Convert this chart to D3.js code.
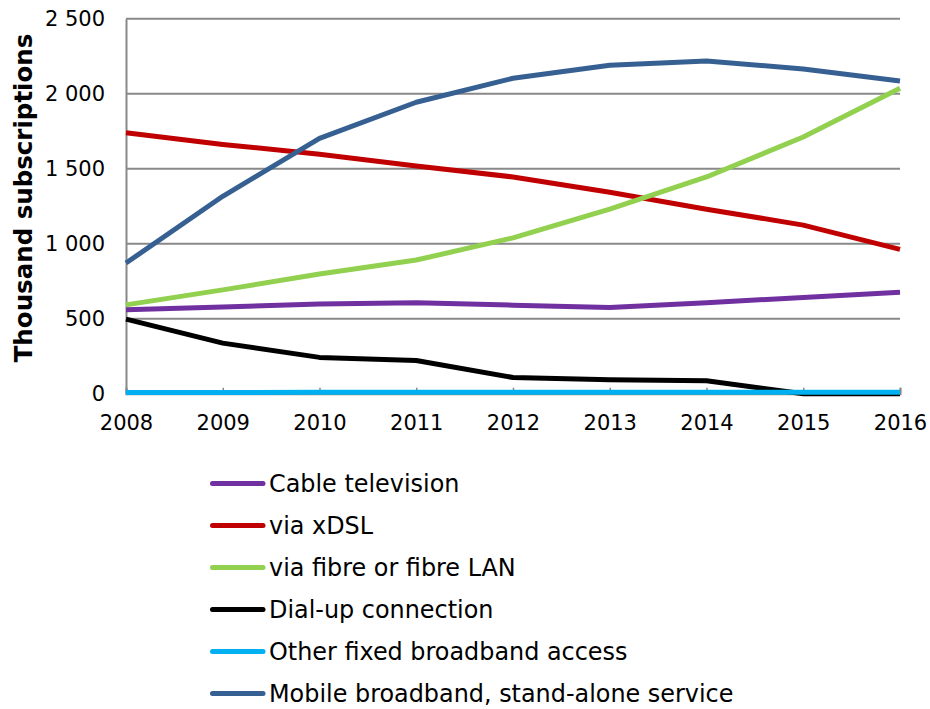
<!DOCTYPE html>
<html>
<head>
<meta charset="utf-8">
<script src="https://cdn.jsdelivr.net/npm/d3@7"></script>
<style>
  body { margin: 0; background: #fff; }
  svg { display: block; font-family: Verdana, "DejaVu Sans", sans-serif; }
</style>
</head>
<body>
<svg id="chart" width="930" height="709"></svg>
<script>
// Broadband subscriptions by access type, thousands
const years = [2008, 2009, 2010, 2011, 2012, 2013, 2014, 2015, 2016];
const cableTv   = [559, 578, 598, 607, 590, 575, 607, 641, 676];
const xdsl      = [1740, 1662, 1596, 1518, 1445, 1343, 1230, 1124, 962];
const fibre     = [592, 692, 798, 891, 1039, 1230, 1445, 1711, 2037];
const dialUp    = [497, 337, 242, 221, 108, 93, 86, 0, 0];
const otherFixed = [8, 8, 10, 10, 10, 10, 10, 10, 10];
const mobile    = [871, 1316, 1702, 1943, 2103, 2190, 2218, 2165, 2085];
const yTicks = [0, 500, 1000, 1500, 2000, 2500];

const seriesNames = [
  "Cable television",
  "via xDSL",
  "via fibre or fibre LAN",
  "Dial-up connection",
  "Other fixed broadband access",
  "Mobile broadband, stand-alone service"
];
const seriesValues = [cableTv, xdsl, fibre, dialUp, otherFixed, mobile];
const seriesColors = ["#7030A0", "#C00000", "#92D050", "#000000", "#00B0F0", "#376092"];

const svg = d3.select("#chart");
const plot = { left: 126, right: 900, top: 18.7, bottom: 393.7 };

const x = d3.scalePoint().domain(years).range([plot.left, plot.right]);
const y = d3.scaleLinear().domain([0, 2500]).range([plot.bottom, plot.top]);

const fmt = d3.formatLocale({ decimal: ",", thousands: "\u00a0", grouping: [3], currency: ["", ""] }).format(",d");

// horizontal gridlines
svg.append("g")
  .selectAll("line")
  .data(yTicks.filter(d => d > 0))
  .join("line")
  .attr("x1", plot.left).attr("x2", plot.right)
  .attr("y1", d => y(d)).attr("y2", d => y(d))
  .attr("stroke", "#898989").attr("stroke-width", 2);

// y axis
const yAxis = svg.append("g")
  .attr("transform", `translate(${plot.left},0)`)
  .call(d3.axisLeft(y).tickValues(yTicks).tickFormat(fmt).tickSize(0).tickPadding(21));
yAxis.select(".domain").attr("stroke", "#898989").attr("stroke-width", 2);
yAxis.selectAll("text").attr("font-size", 21).attr("fill", "#000")
  .attr("font-family", "Verdana, 'DejaVu Sans', sans-serif");

// x axis
const xAxis = svg.append("g")
  .attr("transform", `translate(0,${plot.bottom})`)
  .call(d3.axisBottom(x).tickSize(-6).tickPadding(21));
xAxis.select(".domain").attr("stroke", "#898989").attr("stroke-width", 2);
xAxis.selectAll(".tick line").attr("stroke", "#898989").attr("stroke-width", 1.5);
xAxis.selectAll("text").attr("font-size", 21).attr("fill", "#000")
  .attr("font-family", "Verdana, 'DejaVu Sans', sans-serif");

// y axis title
svg.append("text")
  .attr("transform", `translate(32,198) rotate(-90)`)
  .attr("text-anchor", "middle")
  .attr("font-size", 24.5).attr("font-weight", "bold")
  .text("Thousand subscriptions");

// series lines
const line = d3.line()
  .x((d, i) => x(years[i]))
  .y(d => y(d));

svg.append("g")
  .selectAll("path")
  .data(seriesValues)
  .join("path")
  .attr("d", d => line(d))
  .attr("fill", "none")
  .attr("stroke", (d, i) => seriesColors[i])
  .attr("stroke-width", 5)
  .attr("stroke-linejoin", "round");

// legend
const legend = svg.append("g")
  .selectAll("g")
  .data(seriesNames)
  .join("g")
  .attr("transform", (d, i) => `translate(0,${483.5 + i * 42})`);

legend.append("line")
  .attr("x1", 212.5).attr("x2", 263).attr("y1", 0).attr("y2", 0)
  .attr("stroke", (d, i) => seriesColors[i])
  .attr("stroke-width", 5)
  .attr("stroke-linecap", "round");

legend.append("text")
  .attr("x", 269).attr("y", 8.5)
  .attr("font-size", 23.9)
  .attr("fill", "#000")
  .text(d => d);
</script>
</body>
</html>
